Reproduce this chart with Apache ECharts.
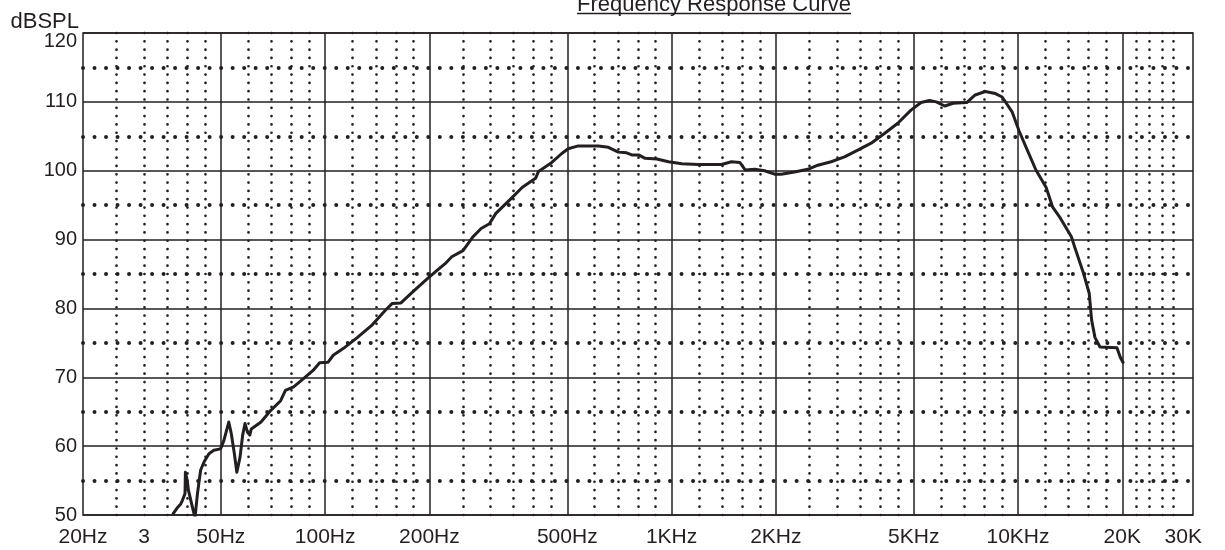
<!DOCTYPE html>
<html>
<head>
<meta charset="utf-8">
<script src="https://cdn.jsdelivr.net/npm/echarts@6/dist/echarts.min.js"></script>
<style>
  html, body { margin: 0; padding: 0; background: #fff; }
  #chart { width: 1225px; height: 550px; }
</style>
</head>
<body>
<div id="chart"></div>
<script>
  // measured curve (Hz / dB SPL)
  var freqHz = [
    36.3, 37.5, 38.3, 38.7, 39.4, 39.5, 40.0, 40.3, 41.4, 42.1, 42.8, 43.7, 44.7, 46.2, 47.7, 49.9,
    51.0, 52.7, 53.6, 54.7, 55.6, 56.8, 57.8, 58.7, 59.7, 60.6, 61.2, 65.3, 69.7, 74.4, 76.8, 81.1,
    86.6, 92.3, 96.4, 102, 105.5, 113, 124, 136, 149, 156, 165.5, 179, 197, 210, 222, 232, 250,
    267, 282, 298, 311, 340, 371, 405, 413, 451, 482, 503, 538, 615, 657, 702, 742, 767, 803, 839,
    907, 980, 1070, 1195, 1394, 1489, 1574, 1633, 1738, 1856, 1983, 2071, 2264, 2474, 2643, 2888,
    3156, 3448, 3767, 4115, 4498, 4910, 5250, 5556, 5809, 6147, 6500, 7110, 7522, 8046, 8605, 9000,
    9626, 10067, 10532, 11265, 12050, 12593, 13177, 14260, 14578, 15413, 16054, 16314, 16676,
    17245, 19300, 19735, 20175
  ]
  var splDb = [
    50.1, 51.1, 51.6, 52.1, 53.1, 56.2, 55.0, 53.6, 51.1, 49.6, 53.1, 56.5, 57.7, 58.9, 59.4, 59.6,
    60.8, 63.5, 61.8, 58.9, 56.2, 58.4, 61.6, 63.3, 62.0, 61.6, 62.5, 63.5, 65.2, 66.6, 68.1, 68.6,
    69.8, 71.0, 72.1, 72.2, 73.2, 74.2, 75.8, 77.5, 79.7, 80.7, 80.8, 82.4, 84.3, 85.5, 86.5, 87.5, 88.4,
    90.4, 91.6, 92.3, 93.8, 95.7, 97.6, 98.9, 99.9, 101.2, 102.5, 103.2, 103.6, 103.6, 103.4, 102.7, 102.6, 102.3, 102.3, 101.8,
    101.7, 101.3, 101.0, 100.9, 100.9, 101.3, 101.2, 100.1, 100.2, 100.0, 99.5, 99.5, 99.8, 100.2, 100.8, 101.3,
    102.0, 103.0, 104.0, 105.4, 106.9, 108.8, 109.9, 110.2, 110.0, 109.4, 109.8, 109.9, 111.0, 111.5, 111.2, 110.7,
    108.5, 105.8, 103.5, 100.1, 97.6, 94.7, 93.3, 90.4, 88.9, 85.3, 82.2, 78.3, 75.8,
    74.4, 74.3, 72.9, 72.0
  ]

  // axis ticks and grid
  var xTickValues = [20, 30, 50, 100, 200, 500, 1000, 2000, 5000, 10000, 20000, 30000]
  var xTickLabels = ['20Hz', '3', '50Hz', '100Hz', '200Hz', '500Hz', '1KHz', '2KHz', '5KHz', '10KHz', '20K', '30K']
  var xMajorLines = [50, 100, 200, 500, 1000, 2000, 5000, 10000, 20000]
  var xMinorLines = [25, 30, 35, 40, 45, 60, 70, 80, 90, 120, 140, 160, 180, 250, 300, 350, 400, 450,
    600, 700, 800, 900, 1200, 1400, 1600, 1800, 2500, 3000, 3500, 4000, 4500, 6000, 7000, 8000, 9000,
    12000, 14000, 16000, 18000, 22000, 24000, 26000, 28000]
  var yMinorLines = [55, 65, 75, 85, 95, 105, 115]

  var ink = '#231f20'
  var font = 'Liberation Sans'

  var myChart = echarts.init(document.getElementById('chart'))

  var option = {
    backgroundColor: '#fff',
    animation: false,
    grid: {
      left: 83, right: 32, top: 33, bottom: 35,
      show: true, borderColor: ink, borderWidth: 1.5
    },
    graphic: [
      {
        type: 'text', x: 714, y: 5,
        style: { text: 'Frequency Response Curve', fill: ink, font: '22px "Liberation Sans"', align: 'center', verticalAlign: 'middle' }
      },
      {
        type: 'line', shape: { x1: 577, y1: 13.5, x2: 851, y2: 13.5 },
        style: { stroke: ink, lineWidth: 1.5 }
      }
    ],
    xAxis: {
      type: 'log',
      logBase: 10,
      min: 20,
      max: 32000, // plot edge sits a little past 30K
      axisLine: { show: false },
      axisTick: { show: false },
      splitLine: { show: false },
      minorSplitLine: { show: false },
      axisLabel: {
        customValues: xTickValues,
        margin: 12,
        color: ink,
        fontFamily: font,
        fontSize: 21,
        formatter: function (v) {
          for (var i = 0; i < xTickValues.length; i++) {
            if (Math.abs(xTickValues[i] - v) / v < 0.01) return xTickLabels[i]
          }
          return ''
        }
      }
    },
    yAxis: {
      type: 'value',
      min: 50,
      max: 120,
      interval: 10,
      name: 'dBSPL',
      nameLocation: 'end',
      nameGap: 0,
      nameMoveOverlap: false,
      nameTextStyle: { color: ink, fontFamily: font, fontSize: 22, align: 'right', padding: [0, 4, 0, 0] },
      axisLine: { show: false },
      axisTick: { show: false },
      splitLine: { show: true, lineStyle: { color: ink, width: 1.5 } },
      axisLabel: {
        margin: 6, color: ink, fontFamily: font, fontSize: 20,
        // top label sits just under the frame
        formatter: function (v) { return v === 120 ? '{top|120}' : String(v) },
        rich: { top: { padding: [16, 0, 0, 0], color: ink, fontFamily: font, fontSize: 20 } }
      }
    },
    series: [
      {
        // minor / major grid lines
        type: 'line',
        data: [],
        z: 1,
        silent: true,
        markLine: {
          silent: true,
          symbol: 'none',
          label: { show: false },
          animation: false,
          data: xMajorLines.map(function (v) {
            return { xAxis: v, lineStyle: { color: ink, width: 1.5, type: 'solid' } }
          }).concat(xMinorLines.map(function (v) {
            return { xAxis: v, lineStyle: { color: ink, width: 2.7, type: [0.01, 8.3], cap: 'round' } }
          })).concat(yMinorLines.map(function (v) {
            return { yAxis: v, lineStyle: { color: ink, width: 4, type: [0.01, 11.5], cap: 'round' } }
          }))
        }
      },
      {
        name: 'SPL',
        type: 'line',
        z: 5,
        showSymbol: false,
        symbol: 'none',
        clip: true,
        data: freqHz.map(function (f, i) { return [f, splDb[i]] }),
        lineStyle: { color: ink, width: 3, join: 'round' }
      }
    ]
  }
  option && myChart.setOption(option)
</script>
</body>
</html>
